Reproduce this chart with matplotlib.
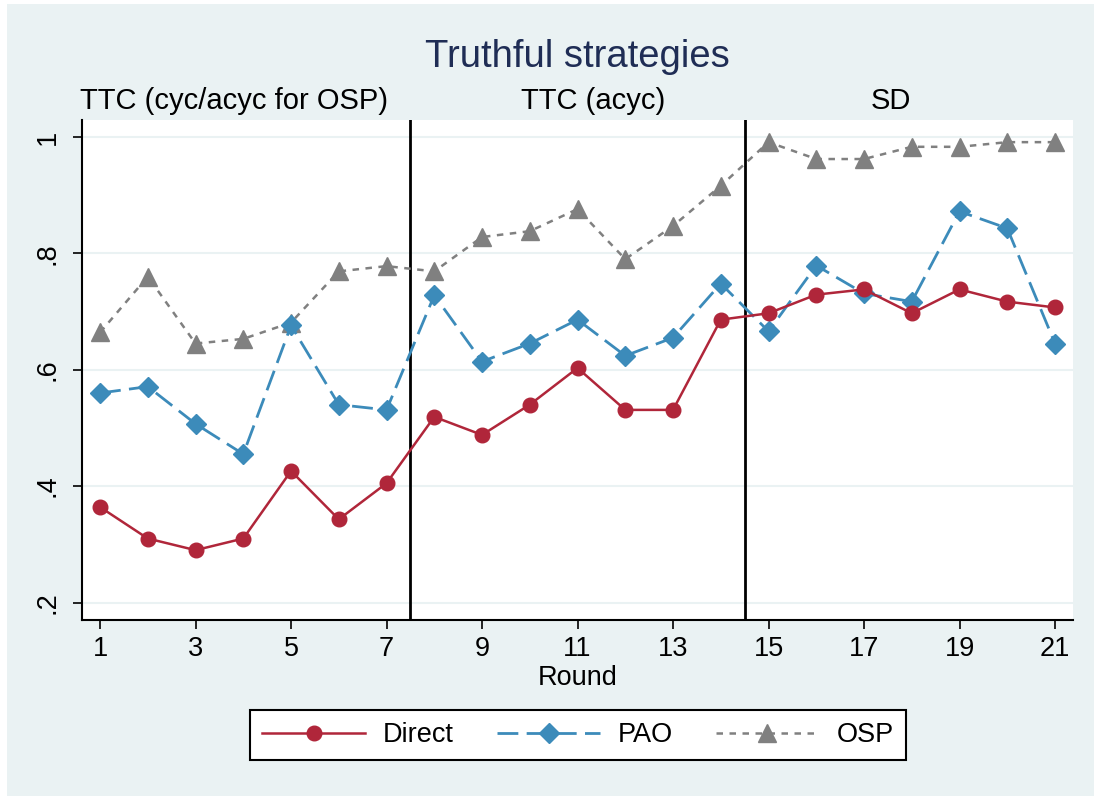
import numpy as np
import matplotlib.pyplot as plt
from matplotlib.patches import Rectangle

plt.rcParams['font.family'] = ['Liberation Sans', 'DejaVu Sans']

# Share of truthful strategies per round
rounds = np.arange(1, 22)
direct = [0.364, 0.310, 0.290, 0.310, 0.426, 0.343, 0.405,
          0.519, 0.488, 0.540, 0.603, 0.531, 0.531, 0.686,
          0.697, 0.729, 0.738, 0.697, 0.738, 0.717, 0.707]
pao = [0.560, 0.571, 0.507, 0.455, 0.676, 0.540, 0.531,
       0.728, 0.614, 0.645, 0.686, 0.624, 0.655, 0.748,
       0.666, 0.779, 0.731, 0.717, 0.872, 0.843, 0.645]
osp = [0.664, 0.760, 0.645, 0.653, 0.681, 0.769, 0.778,
       0.769, 0.828, 0.838, 0.876, 0.790, 0.847, 0.916,
       0.991, 0.962, 0.962, 0.983, 0.983, 0.991, 0.991]

# treatment phases
phase_breaks = [7.5, 14.5]
phase_labels = ['TTC (cyc/acyc for OSP)', 'TTC (acyc)', 'SD']
phase_label_x = [3.81, 11.32, 17.57]

xticks = np.arange(1, 22, 2)
yticks = [0.2, 0.4, 0.6, 0.8, 1.0]
ytick_labels = ['.2', '.4', '.6', '.8', '1']

bg = '#EAF2F3'
red = '#B0263A'
blue = '#3C8BBA'
grey = '#808080'

fig = plt.figure(figsize=(10.94, 7.96), dpi=100)
fig.patch.set_facecolor(bg)
fig.patches.append(Rectangle((0, 0), 7 / 1094, 1, transform=fig.transFigure,
                             facecolor='white', edgecolor='none', zorder=0))
fig.patches.append(Rectangle((0, 1 - 4 / 796), 1, 4 / 796, transform=fig.transFigure,
                             facecolor='white', edgecolor='none', zorder=0))

ax = fig.add_axes([0.075, 0.2211, 0.9058, 0.6281])
ax.set_facecolor('white')

for y in yticks:
    ax.axhline(y, color=bg, lw=1.5, zorder=1)

for xb in phase_breaks:
    ax.axvline(xb, color='black', lw=2, zorder=2)

ax.plot(rounds, direct, color=red, lw=1.8, marker='o', ms=10.5,
        label='Direct', zorder=5)
ax.plot(rounds, pao, color=blue, lw=2, marker='D', ms=10.5,
        dashes=(7.5, 3), label='PAO', zorder=4)
ax.plot(rounds, osp, color=grey, lw=1.8, marker='^', ms=13,
        dashes=(2.6, 2.6), label='OSP', zorder=3)

ax.set_xlim(0.623, 21.377)
ax.set_ylim(0.170, 1.029)
ax.set_xticks(xticks)
ax.set_yticks(yticks)
ax.set_yticklabels(ytick_labels, rotation=90, va='center')
ax.tick_params(axis='both', direction='out', length=6.5, width=1.2,
               labelsize=19.5, colors='black')
ax.tick_params(axis='y', pad=9)
ax.tick_params(axis='x', pad=5)

for s in ['top', 'right']:
    ax.spines[s].set_visible(False)
for s in ['left', 'bottom']:
    ax.spines[s].set_linewidth(1.5)

ax.set_xlabel('Round', fontsize=19.5, labelpad=2)

for lx, lab in zip(phase_label_x, phase_labels):
    ax.text(lx, 1.022, lab, transform=ax.get_xaxis_transform(),
            ha='center', va='baseline', fontsize=21)

fig.text(577 / 1094, 1 - 67 / 796, 'Truthful strategies', ha='center',
         va='baseline', fontsize=27.5, color='#1F2D55')

leg = fig.legend(loc='center', bbox_to_anchor=(578 / 1094, 1 - 735 / 796),
                 ncol=3, fontsize=19.5, frameon=True, fancybox=False,
                 handlelength=3.8, handletextpad=0.65, columnspacing=1.6,
                 borderpad=0.45, edgecolor='black', facecolor='white',
                 framealpha=1)
leg.get_frame().set_linewidth(1.5)

fig.savefig('out.png', dpi=100, facecolor=fig.get_facecolor())
